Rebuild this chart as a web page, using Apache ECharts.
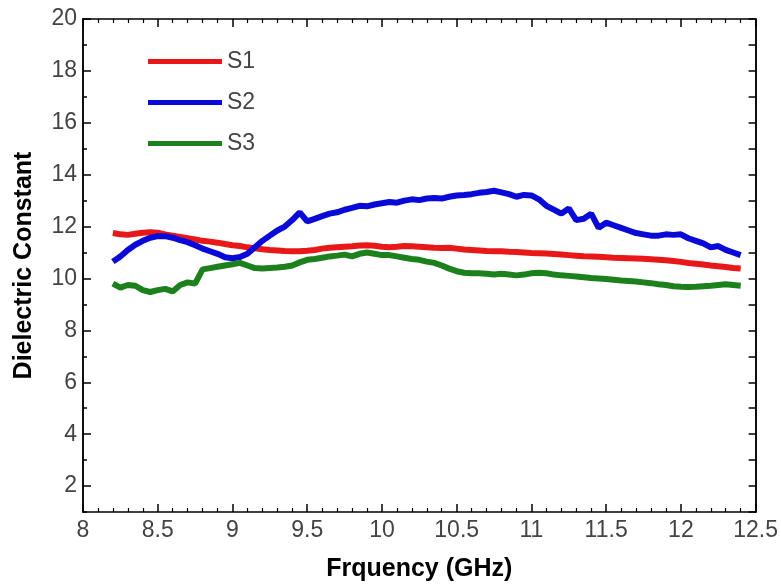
<!DOCTYPE html>
<html>
<head>
<meta charset="utf-8">
<script src="https://cdn.jsdelivr.net/npm/echarts@6/dist/echarts.min.js"></script>
<style>
    html, body { margin: 0; padding: 0; background: #fff; }
    #main { width: 781px; height: 587px; }
</style>
</head>
<body>
<div id="main"></div>
<script>
// frequency points (GHz)
var freq = [8.20, 8.25, 8.30, 8.35, 8.40, 8.45, 8.50, 8.55, 8.60, 8.65, 8.70, 8.75, 8.80, 8.85, 8.90, 8.95,
    9.00, 9.05, 9.10, 9.15, 9.20, 9.25, 9.30, 9.35, 9.40, 9.45, 9.50, 9.55, 9.60, 9.65, 9.70, 9.75, 9.80, 9.85, 9.90, 9.95,
    10.00, 10.05, 10.10, 10.15, 10.20, 10.25, 10.30, 10.35, 10.40, 10.45, 10.50, 10.55, 10.60, 10.65, 10.70, 10.75, 10.80, 10.85, 10.90, 10.95,
    11.00, 11.05, 11.10, 11.15, 11.20, 11.25, 11.30, 11.35, 11.40, 11.45, 11.50, 11.55, 11.60, 11.65, 11.70, 11.75, 11.80, 11.85, 11.90, 11.95,
    12.00, 12.05, 12.10, 12.15, 12.20, 12.25, 12.30, 12.35, 12.40];

var s1 = [11.75, 11.70, 11.68, 11.72, 11.76, 11.78, 11.76, 11.70, 11.65, 11.60, 11.55, 11.50, 11.45, 11.42, 11.38, 11.33,
    11.28, 11.25, 11.20, 11.16, 11.13, 11.10, 11.08, 11.06, 11.05, 11.05, 11.07, 11.10, 11.15, 11.18, 11.20, 11.22, 11.24, 11.27, 11.28, 11.26,
    11.22, 11.20, 11.22, 11.25, 11.24, 11.22, 11.20, 11.18, 11.17, 11.18, 11.15, 11.12, 11.10, 11.08, 11.06, 11.05, 11.05, 11.03, 11.02, 11.00,
    10.98, 10.97, 10.96, 10.94, 10.92, 10.90, 10.88, 10.86, 10.85, 10.84, 10.82, 10.80, 10.79, 10.78, 10.77, 10.76, 10.74, 10.72, 10.70, 10.67,
    10.64, 10.60, 10.57, 10.54, 10.50, 10.47, 10.44, 10.40, 10.38];

var s2 = [10.65, 10.85, 11.10, 11.30, 11.45, 11.57, 11.63, 11.63, 11.57, 11.48, 11.40, 11.28, 11.15, 11.05, 10.95, 10.82,
    10.78, 10.83, 10.95, 11.20, 11.45, 11.65, 11.85, 12.00, 12.25, 12.55, 12.20, 12.30, 12.40, 12.50, 12.55, 12.65, 12.72, 12.80, 12.78, 12.85,
    12.90, 12.95, 12.92, 13.00, 13.05, 13.02, 13.08, 13.10, 13.08, 13.15, 13.20, 13.22, 13.25, 13.30, 13.33, 13.38, 13.32, 13.25, 13.15, 13.22,
    13.20, 13.05, 12.80, 12.65, 12.50, 12.70, 12.25, 12.30, 12.50, 11.95, 12.15, 12.05, 11.95, 11.85, 11.75, 11.70, 11.65, 11.65, 11.70, 11.68,
    11.70, 11.55, 11.45, 11.35, 11.20, 11.25, 11.10, 11.00, 10.90];

var s3 = [9.80, 9.65, 9.75, 9.72, 9.55, 9.48, 9.55, 9.60, 9.50, 9.75, 9.85, 9.80, 10.35, 10.40, 10.45, 10.50,
    10.55, 10.60, 10.50, 10.40, 10.38, 10.40, 10.42, 10.45, 10.50, 10.62, 10.72, 10.75, 10.80, 10.85, 10.88, 10.92, 10.85, 10.95, 11.00, 10.95,
    10.90, 10.90, 10.85, 10.80, 10.75, 10.72, 10.65, 10.60, 10.50, 10.38, 10.28, 10.22, 10.20, 10.20, 10.18, 10.15, 10.18, 10.15, 10.12, 10.15,
    10.20, 10.22, 10.20, 10.15, 10.12, 10.10, 10.08, 10.05, 10.02, 10.00, 9.98, 9.95, 9.92, 9.90, 9.88, 9.85, 9.82, 9.78, 9.75, 9.70,
    9.68, 9.67, 9.68, 9.70, 9.72, 9.75, 9.78, 9.75, 9.72];

var yMajor = [2, 4, 6, 8, 10, 12, 14, 16, 18, 20];
var yMinor = [1, 3, 5, 7, 9, 11, 13, 15, 17, 19];

function pairs(vals) {
    return vals.map(function (v, i) { return [freq[i], v]; });
}

var labelFont = {
    fontFamily: 'Liberation Sans',
    fontSize: 23,
    color: '#444'
};
var lineStyle = { color: '#000', width: 1.5 };

function xAx(pos, showLabel) {
    return {
        type: 'value',
        position: pos,
        min: 8, max: 12.5, interval: 0.5,
        axisLine: { show: true, onZero: false, lineStyle: lineStyle },
        axisTick: { show: true, inside: true, length: 8, lineStyle: { color: '#000', width: 1.5 } },
        minorTick: { show: true, splitNumber: 5, length: 4, lineStyle: { color: '#000', width: 1.2 } },
        axisLabel: Object.assign({ show: showLabel, margin: 7 }, labelFont),
        splitLine: { show: false },
        minorSplitLine: { show: false }
    };
}

function yAx(pos, ticks, len, showLabel) {
    return {
        type: 'value',
        position: pos,
        min: 1, max: 20,
        axisLine: { show: true, onZero: false, lineStyle: lineStyle },
        axisTick: { show: true, inside: true, length: len, customValues: ticks, lineStyle: { color: '#000', width: 1.5 } },
        axisLabel: Object.assign({ show: showLabel, margin: 6, customValues: yMajor }, labelFont),
        splitLine: { show: false }
    };
}

var yLeft = yAx('left', yMajor, 8, true);
yLeft.name = 'Dielectric Constant';
yLeft.nameLocation = 'middle';
yLeft.nameGap = 46;
yLeft.nameTextStyle = { fontFamily: 'Liberation Sans', fontWeight: 'bold', fontSize: 25, color: '#000' };

var xBottom = xAx('bottom', true);
xBottom.name = 'Frquency (GHz)';
xBottom.nameLocation = 'middle';
xBottom.nameGap = 45;
xBottom.nameTextStyle = { fontFamily: 'Liberation Sans', fontWeight: 'bold', fontSize: 25, color: '#000' };

var myChart = echarts.init(document.getElementById('main'));

var option = {
    backgroundColor: '#fff',
    animation: false,
    grid: { left: 83, right: 24, top: 19, bottom: 66 },
    legend: {
        orient: 'vertical',
        left: 143,
        top: 45,
        icon: 'rect',
        itemWidth: 74,
        itemHeight: 5,
        itemGap: 18,
        textStyle: { fontFamily: 'Liberation Sans', fontSize: 23, color: '#444' },
        data: ['S1', 'S2', 'S3']
    },
    xAxis: [xBottom, xAx('top', false)],
    yAxis: [
        yLeft,
        yAx('left', yMinor, 4, false),
        yAx('right', yMajor, 7, false),
        yAx('right', yMinor, 7, false)
    ],
    series: [
        { name: 'S1', type: 'line', color: '#e81818', showSymbol: false, symbol: 'none',
          lineStyle: { width: 6 }, data: pairs(s1) },
        { name: 'S2', type: 'line', color: '#0a0ad8', showSymbol: false, symbol: 'none',
          lineStyle: { width: 6 }, data: pairs(s2) },
        { name: 'S3', type: 'line', color: '#1c801c', showSymbol: false, symbol: 'none',
          lineStyle: { width: 6 }, data: pairs(s3) }
    ]
};

myChart.setOption(option);
</script>
</body>
</html>
